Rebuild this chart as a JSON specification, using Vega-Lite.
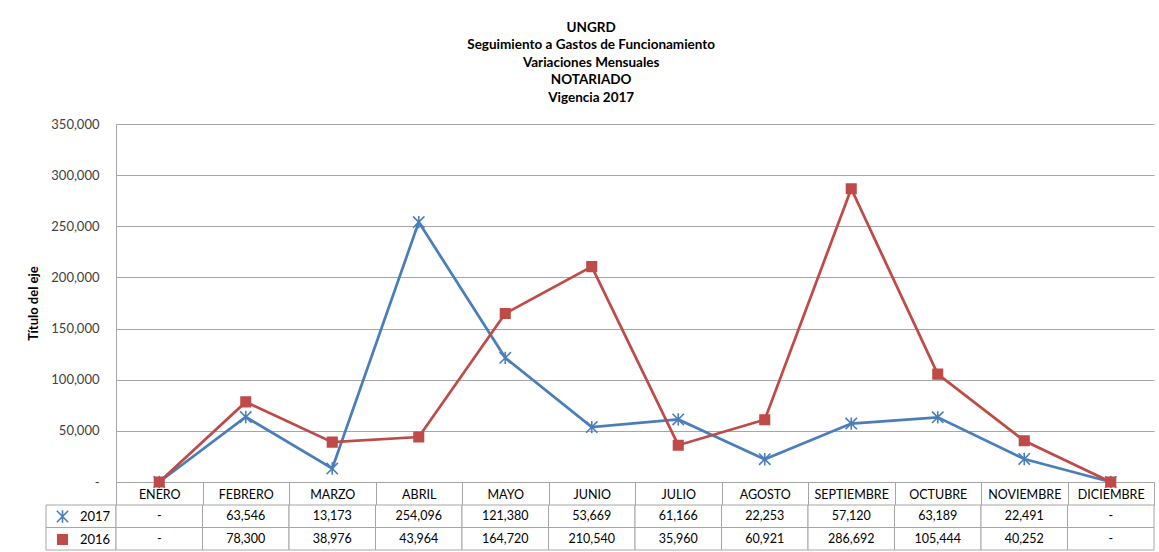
{
  "$schema": "https://vega.github.io/schema/vega-lite/v6.json",
  "padding": {"left": 27, "top": 20, "right": 6, "bottom": 2},
  "background": "white",
  "title": {
    "text": ["UNGRD", "Seguimiento a Gastos de Funcionamiento", "Variaciones Mensuales", "NOTARIADO", "Vigencia 2017"],
    "anchor": "middle",
    "frame": "bounds",
    "font": "Lato",
    "fontSize": 13.5,
    "fontWeight": "bold",
    "color": "#000000",
    "lineHeight": 17.5,
    "offset": 14
  },
  "config": {"view": {"stroke": null}, "font": "Lato"},
  "resolve": {"legend": {"color": "independent", "stroke": "independent", "shape": "independent"}},
  "datasets": {
    "tabla": [
      {"mes": "ENERO", "serie": "2017", "valor": 0},
      {"mes": "ENERO", "serie": "2016", "valor": 0},
      {"mes": "FEBRERO", "serie": "2017", "valor": 63546},
      {"mes": "FEBRERO", "serie": "2016", "valor": 78300},
      {"mes": "MARZO", "serie": "2017", "valor": 13173},
      {"mes": "MARZO", "serie": "2016", "valor": 38976},
      {"mes": "ABRIL", "serie": "2017", "valor": 254096},
      {"mes": "ABRIL", "serie": "2016", "valor": 43964},
      {"mes": "MAYO", "serie": "2017", "valor": 121380},
      {"mes": "MAYO", "serie": "2016", "valor": 164720},
      {"mes": "JUNIO", "serie": "2017", "valor": 53669},
      {"mes": "JUNIO", "serie": "2016", "valor": 210540},
      {"mes": "JULIO", "serie": "2017", "valor": 61166},
      {"mes": "JULIO", "serie": "2016", "valor": 35960},
      {"mes": "AGOSTO", "serie": "2017", "valor": 22253},
      {"mes": "AGOSTO", "serie": "2016", "valor": 60921},
      {"mes": "SEPTIEMBRE", "serie": "2017", "valor": 57120},
      {"mes": "SEPTIEMBRE", "serie": "2016", "valor": 286692},
      {"mes": "OCTUBRE", "serie": "2017", "valor": 63189},
      {"mes": "OCTUBRE", "serie": "2016", "valor": 105444},
      {"mes": "NOVIEMBRE", "serie": "2017", "valor": 22491},
      {"mes": "NOVIEMBRE", "serie": "2016", "valor": 40252},
      {"mes": "DICIEMBRE", "serie": "2017", "valor": 0},
      {"mes": "DICIEMBRE", "serie": "2016", "valor": 0}
    ]
  },
  "columns": 2,
  "bounds": "flush",
  "spacing": {"row": 23, "column": 0},
  "concat": [
    {
      "width": 70,
      "height": 358,
      "data": {"values": []},
      "mark": {"type": "text"},
      "encoding": {}
    },
    {
      "width": 1038,
      "height": 358,
      "data": {"name": "tabla"},
      "encoding": {
        "x": {
          "field": "mes",
          "type": "nominal",
          "sort": ["ENERO", "FEBRERO", "MARZO", "ABRIL", "MAYO", "JUNIO", "JULIO", "AGOSTO", "SEPTIEMBRE", "OCTUBRE", "NOVIEMBRE", "DICIEMBRE"],
          "scale": {"type": "band", "paddingInner": 0, "paddingOuter": 0},
          "axis": {
            "title": null,
            "orient": "bottom",
            "labelAngle": 0,
            "labelFontSize": 12.5,
            "labelColor": "#000000",
            "labelBaseline": "middle",
            "labelPadding": -11,
            "ticks": true,
            "tickSize": 23,
            "tickBand": "extent",
            "tickExtra": true,
            "tickColor": "#a6a6a6",
            "domainColor": "#a6a6a6",
            "grid": false
          }
        },
        "y": {
          "field": "valor",
          "type": "quantitative",
          "scale": {"domain": [0, 350000], "nice": false},
          "axis": {
            "values": [0, 50000, 100000, 150000, 200000, 250000, 300000, 350000],
            "labelExpr": "datum.value == 0 ? '-\u2007' : format(datum.value, ',')",
            "ticks": false,
            "labelPadding": 17,
            "labelFontSize": 13,
            "labelColor": "#404040",
            "gridColor": "#a6a6a6",
            "domainColor": "#a6a6a6",
            "title": "Título del eje",
            "titleFontSize": 13,
            "titleFontWeight": "bold",
            "titleColor": "#000000",
            "titlePadding": 10
          }
        },
        "color": {
          "field": "serie", "type": "nominal",
          "scale": {"domain": ["2017", "2016"], "range": ["#4A7EBB", "#BE4B48"]},
          "legend": {
            "title": null,
            "orient": "none",
            "legendX": -67,
            "legendY": 386,
            "direction": "vertical",
            "padding": 0,
            "symbolSize": 90,
            "symbolStrokeWidth": 1.6,
            "labelFontSize": 13,
            "labelColor": "#000000",
            "rowPadding": 5,
            "labelOffset": 11,
            "symbolOffset": 7
          }
        }
      },
      "layer": [
        {
          "mark": {"type": "line", "strokeWidth": 2.75}
        },
        {
          "mark": {"type": "point", "filled": true, "size": 90, "strokeWidth": 1.6, "opacity": 1},
          "encoding": {
            "stroke": {
              "field": "serie", "type": "nominal",
              "scale": {"domain": ["2017", "2016"], "range": ["#4A7EBB", "#BE4B48"]},
              "legend": {
                "title": null,
                "orient": "none",
                "legendX": -67,
                "legendY": 386,
                "direction": "vertical",
                "padding": 0,
                "symbolSize": 90,
                "symbolStrokeWidth": 1.6,
                "labelFontSize": 13,
                "labelColor": "#000000",
                "rowPadding": 5,
                "labelOffset": 11,
                "symbolOffset": 7
              }
            },
            "shape": {
              "field": "serie", "type": "nominal",
              "scale": {"domain": ["2017", "2016"], "range": ["M-1.2,-1.2L1.2,1.2M-1.2,1.2L1.2,-1.2M0,-1.3L0,1.3", "square"]},
              "legend": {
                "title": null,
                "orient": "none",
                "legendX": -67,
                "legendY": 386,
                "direction": "vertical",
                "padding": 0,
                "symbolSize": 90,
                "symbolStrokeWidth": 1.6,
                "labelFontSize": 13,
                "labelColor": "#000000",
                "rowPadding": 5,
                "labelOffset": 11,
                "symbolOffset": 7
              }
            }
          }
        }
      ]
    },
    {
      "width": 70,
      "height": 45,
      "data": {"name": "tabla"},
      "transform": [{"filter": "datum.mes === 'ENERO'"}],
      "mark": {"type": "rect", "fill": "#ffffff", "fillOpacity": 0, "stroke": "#a6a6a6", "strokeWidth": 1},
      "encoding": {
        "y": {"field": "serie", "type": "nominal", "sort": ["2017", "2016"], "scale": {"type": "band", "paddingInner": 0, "paddingOuter": 0}, "axis": null}
      }
    },
    {
      "width": 1038,
      "height": 45,
      "data": {"name": "tabla"},
      "encoding": {
        "x": {
          "field": "mes",
          "type": "nominal",
          "sort": ["ENERO", "FEBRERO", "MARZO", "ABRIL", "MAYO", "JUNIO", "JULIO", "AGOSTO", "SEPTIEMBRE", "OCTUBRE", "NOVIEMBRE", "DICIEMBRE"],
          "scale": {"type": "band", "paddingInner": 0, "paddingOuter": 0},
          "axis": null
        },
        "y": {"field": "serie", "type": "nominal", "sort": ["2017", "2016"], "scale": {"type": "band", "paddingInner": 0, "paddingOuter": 0}, "axis": null}
      },
      "layer": [
        {"mark": {"type": "rect", "fill": "#ffffff", "stroke": "#a6a6a6", "strokeWidth": 1}},
        {
          "mark": {"type": "text", "fontSize": 12.5, "color": "#000000"},
          "encoding": {
            "text": {"condition": {"test": "datum.valor === 0", "value": "-"}, "field": "valor", "type": "quantitative", "format": ","}
          }
        }
      ]
    }
  ]
}
